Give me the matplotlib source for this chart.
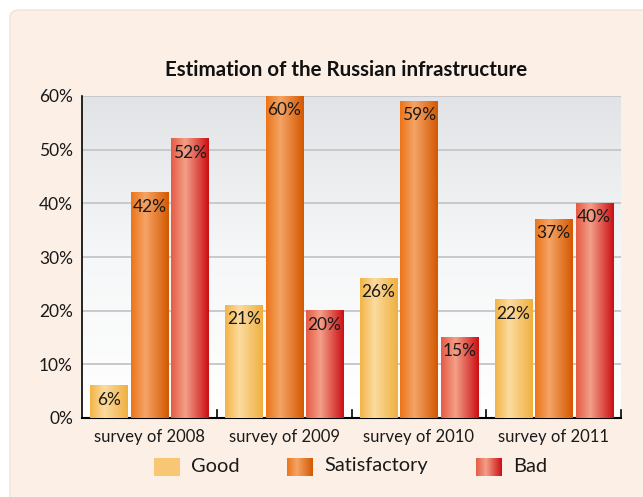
import numpy as np
import matplotlib
matplotlib.use("Agg")
import matplotlib.pyplot as plt
from matplotlib.colors import LinearSegmentedColormap
from matplotlib.patches import FancyBboxPatch

plt.rcParams['font.family'] = ['Lato', 'DejaVu Sans']

surveys = ["survey of 2008", "survey of 2009", "survey of 2010", "survey of 2011"]
series = ["Good", "Satisfactory", "Bad"]
good = [6, 21, 26, 22]
satisfactory = [42, 60, 59, 37]
bad = [52, 20, 15, 40]
yticks = [0, 10, 20, 30, 40, 50, 60]

# left edge / highlight / right edge of each bar gradient
stops = {
    "Good": ["#f2b445", "#fcdba0", "#efb040"],
    "Satisfactory": ["#ec7418", "#f4a466", "#d45800"],
    "Bad": ["#e65a45", "#f3a088", "#cb0e14"],
}
legend_flat = {"Good": True, "Satisfactory": False, "Bad": False}


def make_cmap(name):
    c = stops[name]
    return LinearSegmentedColormap.from_list(name, [(0, c[0]), (0.38, c[1]), (1, c[2])])


fig = plt.figure(figsize=(6.43, 4.97), dpi=100)
fig.patch.set_facecolor("white")

# peach panel behind everything
panel = FancyBboxPatch((10 / 643, -0.05), 1.0, 1 - 10 / 497 + 0.05,
                       boxstyle="round,pad=0,rounding_size=0.015",
                       transform=fig.transFigure, facecolor="#fcefe6",
                       edgecolor="#eee2da", linewidth=1.0, zorder=-10)
fig.add_artist(panel)

ax = fig.add_axes([82 / 643, 1 - 418 / 497, (621 - 82) / 643, (418 - 96) / 497])
ax.set_facecolor("none")

# plot area vertical gradient
grad = np.linspace(0, 1, 256).reshape(-1, 1)
bg = LinearSegmentedColormap.from_list("bg", ["#ffffff", "#f6f7f8", "#e2e3e6"])
ax.imshow(grad, extent=(0, 1, 0, 1), transform=ax.transAxes, cmap=bg,
          aspect="auto", origin="lower", zorder=0)

x = np.arange(len(surveys))
width = 0.275
offset = 0.30
hgrad = np.linspace(0, 1, 256).reshape(1, -1)

for i, (name, vals) in enumerate(zip(series, [good, satisfactory, bad])):
    bars = ax.bar(x + (i - 1) * offset, vals, width, color="none", zorder=3)
    cmap = make_cmap(name)
    for b, v in zip(bars, vals):
        x0, y0 = b.get_x(), b.get_y()
        ax.imshow(hgrad, extent=(x0, x0 + b.get_width(), y0, y0 + b.get_height()),
                  cmap=cmap, aspect="auto", zorder=3)
        ax.text(x0 + b.get_width() / 2, v - 2.6, f"{v}%", ha="center", va="center",
                fontsize=12.5, color="#1a1a1a", zorder=4)

ax.set_xlim(-0.5, len(surveys) - 0.5)
ax.set_ylim(0, 60)
ax.set_yticks(yticks)
ax.set_yticklabels([f"{t}%" for t in yticks], fontsize=12.5, color="#1a1a1a")
ax.yaxis.grid(True, color="#c9c9cb", linewidth=1.4, zorder=1)
ax.set_axisbelow(True)
ax.tick_params(axis="y", length=0, pad=6.5)

ax.set_xticks(x)
ax.set_xticklabels(surveys, fontsize=12, color="#1a1a1a")
ax.tick_params(axis="x", length=0, pad=8)
# group separators and right end tick
for sep in list(x[:-1] + 0.5) + [len(surveys) - 0.5]:
    ax.plot([sep, sep], [0, 1.5], color="black", linewidth=1.2, zorder=5, clip_on=False)

for s in ["top", "right"]:
    ax.spines[s].set_visible(False)
ax.spines["left"].set_linewidth(1.2)
ax.spines["bottom"].set_linewidth(1.5)

fig.text(346 / 643, 1 - 70 / 497, "Estimation of the Russian infrastructure",
         ha="center", va="center", fontsize=14.8, fontweight="bold", color="#111111")

# legend
leg_x = [154, 287, 476]
for name, lx in zip(series, leg_x):
    lax = fig.add_axes([lx / 643, 1 - 476 / 497, 26 / 643, 18 / 497])
    if legend_flat[name]:
        lax.imshow(np.zeros((1, 1)), cmap=LinearSegmentedColormap.from_list(
            "f", ["#f7c775", "#f7c775"]), aspect="auto")
    else:
        lax.imshow(hgrad, cmap=make_cmap(name), aspect="auto")
    lax.axis("off")
    fig.text((lx + 37) / 643, 1 - 466 / 497, name, ha="left", va="center",
             fontsize=14.4, color="#1a1a1a")

fig.savefig("out.png", dpi=100, facecolor=fig.get_facecolor())
